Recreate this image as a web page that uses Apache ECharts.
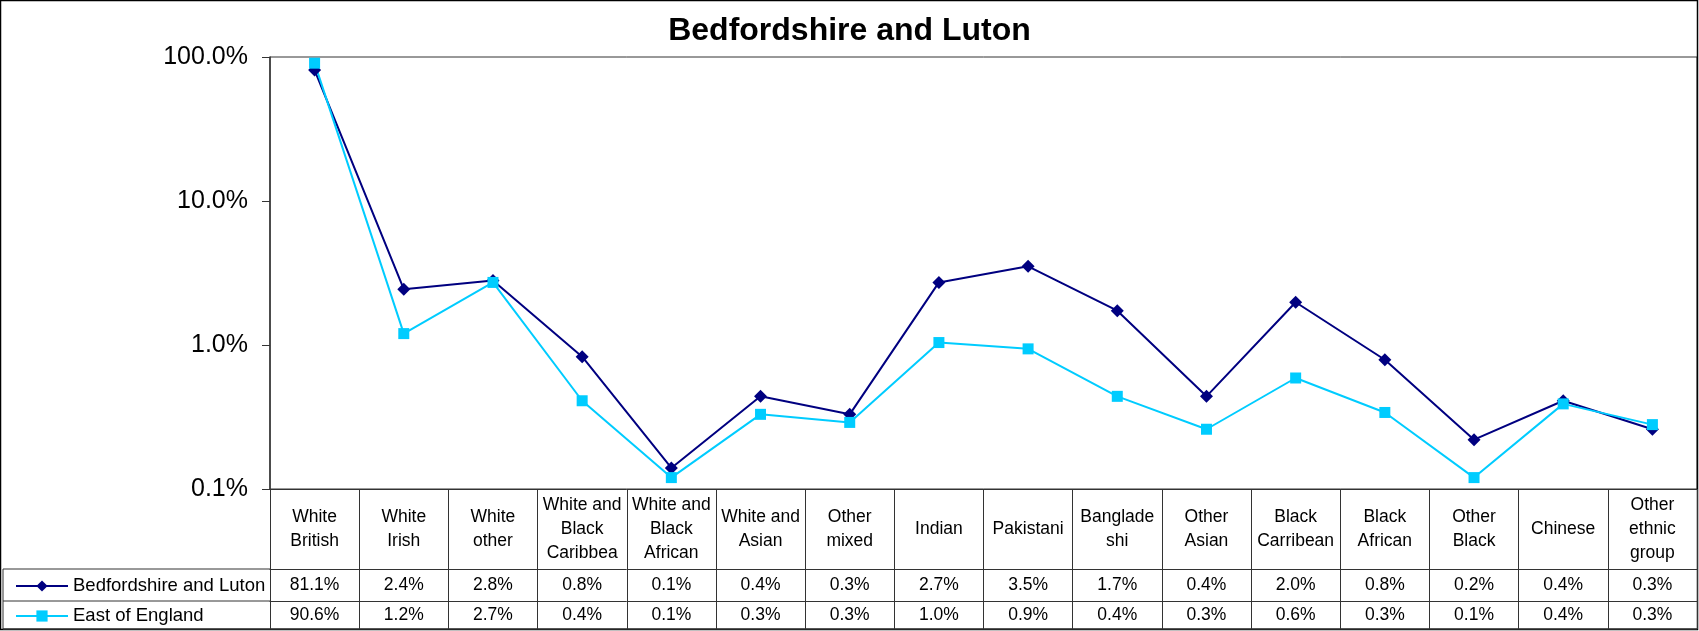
<!DOCTYPE html>
<html>
<head>
<meta charset="utf-8">
<title>Bedfordshire and Luton</title>
<script src="https://cdn.jsdelivr.net/npm/echarts@6/dist/echarts.min.js"></script>
<style>
  html, body { margin: 0; padding: 0; background: #fff; }
  #chart { width: 1699px; height: 631px; }
</style>
</head>
<body>
<div id="chart"></div>
<script>
// Ethnic group categories, wrapped as they appear in the table header
const categories = [
  'White\nBritish', 'White\nIrish', 'White\nother', 'White and\nBlack\nCaribbea',
  'White and\nBlack\nAfrican', 'White and\nAsian', 'Other\nmixed', 'Indian',
  'Pakistani', 'Banglade\nshi', 'Other\nAsian', 'Black\nCarribean',
  'Black\nAfrican', 'Other\nBlack', 'Chinese', 'Other\nethnic\ngroup'
];

// Share of population, in percent
const bedfordshireLuton = [81.1, 2.44, 2.8, 0.83, 0.14, 0.44, 0.33, 2.72, 3.52, 1.73, 0.44, 1.98, 0.79, 0.22, 0.41, 0.26];
const eastOfEngland    = [90.6, 1.2, 2.72, 0.41, 0.12, 0.33, 0.29, 1.04, 0.94, 0.44, 0.26, 0.59, 0.34, 0.12, 0.39, 0.28];

const seriesNames = ['Bedfordshire and Luton', 'East of England'];

// Log-axis range
const yMin = 0.1;
const yMax = 100;

const pct = v => v.toFixed(1) + '%';

const FONT = '"Liberation Sans", Arial, sans-serif';
const LINE = '#333333';

// Layout of the plot and the data table beneath it
const W = 1699, H = 631;
const gridLeft = 270, gridRight = 2, gridTop = 57, gridBottom = 142;
const headerH = 80, rowH1 = 32, rowH2 = 28;
const axisY = H - gridBottom;                 // bottom of plot / top of table
const row1Y = axisY + headerH;
const row2Y = row1Y + rowH1;
const tableBottom = row2Y + rowH2;
const legendIconH = 14;
const legendLineH = 22;

const chart = echarts.init(document.getElementById('chart'), null, { renderer: 'canvas' });

function tableAxis(offset, tickLen, labels, margin) {
  return {
    type: 'category',
    data: categories,
    position: 'bottom',
    offset: offset,
    boundaryGap: true,
    axisLine: { show: true, lineStyle: { color: LINE, width: 1 } },
    axisTick: { show: true, interval: 0, length: tickLen, lineStyle: { color: LINE, width: 1 } },
    axisLabel: {
      show: true,
      interval: 0,
      margin: margin,
      verticalAlign: 'middle',
      align: 'center',
      lineHeight: 24,
      fontSize: 17.5,
      fontFamily: FONT,
      color: '#000',
      formatter: labels
    },
    splitLine: { show: false }
  };
}

// One legend per table row so each key sits beside its own values
function legendRow(name, rowTop, rowH) {
  return {
    orient: 'vertical',
    left: 10,
    top: rowTop + rowH / 2 - legendLineH / 2 - 4,
    itemWidth: 52,
    itemHeight: legendIconH,
    itemGap: 6,
    data: [name],
    lineStyle: { width: 2 },
    textStyle: { fontFamily: FONT, fontSize: 18.5, lineHeight: legendLineH, color: '#000' },
    selectedMode: false
  };
}

const option = {
  animation: false,
  backgroundColor: '#fff',
  title: {
    text: 'Bedfordshire and Luton',
    left: 'center',
    top: 10,
    textStyle: { fontFamily: FONT, fontWeight: 'bold', fontSize: 32, color: '#000' }
  },
  legend: [
    legendRow(seriesNames[0], row1Y, rowH1),
    legendRow(seriesNames[1], row2Y, rowH2)
  ],
  grid: {
    left: gridLeft, right: gridRight, top: gridTop, bottom: gridBottom,
    show: true, borderColor: LINE, borderWidth: 1, backgroundColor: '#fff'
  },
  xAxis: [
    tableAxis(0, headerH, v => v, headerH / 2),
    tableAxis(headerH, rowH1, (v, i) => pct(bedfordshireLuton[i]), rowH1 / 2),
    tableAxis(headerH + rowH1, rowH2, (v, i) => pct(eastOfEngland[i]), rowH2 / 2)
  ],
  yAxis: {
    type: 'log',
    logBase: 10,
    min: yMin,
    max: yMax,
    axisLine: { show: true, lineStyle: { color: LINE, width: 1.5 } },
    axisTick: { show: true, length: 8, lineStyle: { color: LINE } },
    minorTick: { show: false },
    splitLine: { show: false },
    axisLabel: {
      margin: 22,
      fontSize: 25,
      fontFamily: FONT,
      color: '#000',
      formatter: v => pct(v)
    }
  },
  series: [
    {
      name: seriesNames[0],
      type: 'line',
      xAxisIndex: 0,
      data: bedfordshireLuton,
      symbol: 'diamond',
      symbolSize: 13,
      itemStyle: { color: '#000080' },
      lineStyle: { color: '#000080', width: 2 }
    },
    {
      name: seriesNames[1],
      type: 'line',
      xAxisIndex: 0,
      data: eastOfEngland,
      symbol: 'rect',
      symbolSize: 11,
      itemStyle: { color: '#00CCFF' },
      lineStyle: { color: '#00CCFF', width: 2 }
    }
  ],
  graphic: [
    // outer chart frame
    { type: 'rect', shape: { x: 0.5, y: 0.5, width: W - 2, height: H - 2 },
      style: { fill: null, stroke: '#000', lineWidth: 1.5 }, silent: true },
    // legend column of the data table
    { type: 'line', shape: { x1: 3, y1: row1Y, x2: gridLeft, y2: row1Y }, style: { stroke: LINE, lineWidth: 1 } },
    { type: 'line', shape: { x1: 3, y1: row2Y, x2: gridLeft, y2: row2Y }, style: { stroke: LINE, lineWidth: 1 } },
    { type: 'line', shape: { x1: 3, y1: tableBottom, x2: W - gridRight, y2: tableBottom }, style: { stroke: LINE, lineWidth: 1.5 } },
    { type: 'line', shape: { x1: 3, y1: row1Y, x2: 3, y2: tableBottom }, style: { stroke: LINE, lineWidth: 1 } }
  ]
};

chart.setOption(option);
</script>
</body>
</html>
